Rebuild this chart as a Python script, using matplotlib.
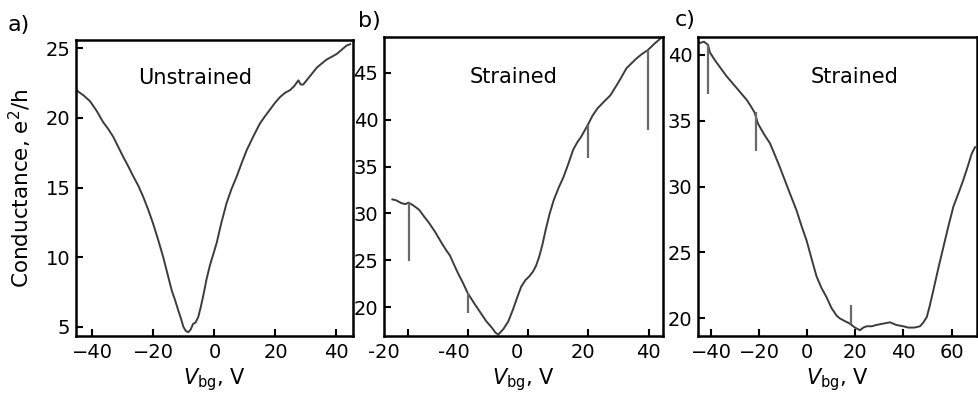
import matplotlib
matplotlib.use("Agg")
import matplotlib.pyplot as plt

# panel a: unstrained
va = [-45.2, -44.7, -42.8, -40.8, -38.6, -36.5, -34.8, -33.2, -31.5, -29.9,
      -28.2, -26.6, -24.9, -23.3, -21.7, -20.1, -18.4, -16.8, -15.4, -14.0,
      -12.9, -11.9, -11.0, -10.2, -9.4, -8.6, -7.8, -7.0, -6.2, -5.3,
      -4.5, -3.7, -2.6, -1.5, -0.4, 0.7, 2.3, 4.0, 5.6, 7.3,
      9.0, 10.6, 12.8, 14.9, 16.5, 18.2, 19.9, 21.5, 23.1, 24.8,
      26.2, 27.5, 28.3, 29.1, 31.3, 33.5, 35.1, 36.8, 38.5, 40.1,
      41.7, 43.3, 44.5]
ga = [22.0, 21.9, 21.6, 21.2, 20.5, 19.7, 19.2, 18.65, 17.9, 17.2,
      16.5, 15.8, 15.1, 14.3, 13.4, 12.4, 11.2, 10.0, 8.8, 7.6,
      6.9, 6.2, 5.6, 5.0, 4.7, 4.6, 4.8, 5.2, 5.3, 5.7,
      6.4, 7.2, 8.4, 9.4, 10.2, 11.0, 12.5, 13.9, 14.9, 15.8,
      16.8, 17.7, 18.7, 19.6, 20.1, 20.6, 21.1, 21.5, 21.8, 22.0,
      22.3, 22.7, 22.4, 22.4, 23.0, 23.6, 23.9, 24.2, 24.4, 24.6,
      24.9, 25.2, 25.3]

# panel b: strained
vb = [-45.3, -44.0, -42.3, -41.0, -39.9, -38.5, -36.4, -34.8, -33.1, -31.0,
      -28.8, -27.4, -26.1, -24.7, -23.4, -21.8, -20.2, -18.0, -15.9, -14.0,
      -12.1, -11.0, -10.0, -8.3, -6.7, -5.1, -3.8, -2.4, -1.0, 0.3,
      1.5, 2.5, 3.5, 4.6, 5.7, 7.0, 8.4, 10.0, 11.7, 13.3,
      14.9, 16.3, 17.6, 19.7, 21.3, 23.0, 25.1, 27.3, 30.0, 32.7,
      34.3, 35.9, 37.8, 39.7, 42.0, 44.5]
gb = [31.5, 31.4, 31.1, 31.0, 31.15, 30.9, 30.4, 29.7, 29.0, 28.0,
      26.8, 26.1, 25.5, 24.5, 23.6, 22.6, 21.5, 20.4, 19.4, 18.5,
      17.8, 17.3, 17.1, 17.7, 18.5, 19.8, 21.0, 22.2, 22.9, 23.3,
      23.8, 24.4, 25.3, 26.6, 28.2, 29.9, 31.4, 32.7, 33.9, 35.3,
      36.8, 37.6, 38.2, 39.4, 40.4, 41.2, 41.9, 42.6, 44.0, 45.5,
      46.0, 46.5, 47.0, 47.4, 48.1, 48.8]
spike_b_x = [-39.9, -20.2, 19.7, 39.7]
spike_b_top = [31.1, 21.5, 39.4, 47.4]
spike_b_bot = [24.9, 19.4, 35.9, 38.9]

# panel c: strained
vc = [-45.5, -44.8, -43.0, -41.3, -40.6, -38.5, -36.5, -33.7, -30.9, -28.1,
      -25.3, -23.5, -21.9, -20.6, -18.1, -15.6, -13.5, -11.5, -9.4, -7.3,
      -4.5, -2.4, -0.3, 1.8, 3.8, 5.9, 8.0, 10.0, 12.2, 13.5,
      15.5, 17.7, 19.8, 21.9, 23.3, 24.7, 26.8, 28.8, 31.5, 34.4,
      37.0, 39.9, 42.0, 44.5, 46.9, 48.3, 49.7, 51.0, 52.4, 54.5,
      56.6, 58.7, 60.8, 62.9, 64.9, 66.7, 68.4, 69.8]
gc = [41.0, 40.9, 41.0, 40.75, 40.2, 39.6, 39.1, 38.4, 37.8, 37.2,
      36.6, 36.1, 35.6, 34.8, 34.0, 33.3, 32.4, 31.5, 30.5, 29.5,
      28.2, 27.0, 25.9, 24.5, 23.2, 22.3, 21.6, 20.8, 20.2, 20.0,
      19.8, 19.6, 19.3, 19.1, 19.3, 19.4, 19.4, 19.5, 19.6, 19.7,
      19.5, 19.4, 19.3, 19.3, 19.4, 19.7, 20.1, 21.0, 22.1, 23.8,
      25.4, 27.0, 28.5, 29.5, 30.5, 31.5, 32.5, 33.0]
spike_c_x = [-41.3, -21.5, 18.0]
spike_c_top = [40.75, 35.7, 21.0]
spike_c_bot = [37.0, 32.7, 19.6]

line_col = "#3c3c3c"
spike_col = "#6a6a6a"

fig = plt.figure(figsize=(9.79, 3.93), dpi=100)
ax_a = fig.add_axes([0.0776, 0.145, 0.2826, 0.7532])
ax_b = fig.add_axes([0.3922, 0.145, 0.2850, 0.7616])
ax_c = fig.add_axes([0.7130, 0.145, 0.2847, 0.7616])

for ax in (ax_a, ax_b, ax_c):
    for s in ax.spines.values():
        s.set_linewidth(1.8)
    ax.tick_params(direction="in", length=5, width=1.5, labelsize=14,
                   colors="black")
    ax.tick_params(axis="y", pad=4)
    ax.tick_params(axis="x", pad=5)

ax_a.plot(va, ga, color=line_col, lw=1.4)
ax_a.set_xlim(-45.4, 45.3)
ax_a.set_ylim(4.33, 25.6)
ax_a.set_xticks([-40, -20, 0, 20, 40])
ax_a.set_yticks([5, 10, 15, 20, 25])
ax_a.text(0.432, 0.872, "Unstrained", transform=ax_a.transAxes,
          ha="center", va="center", fontsize=15)

ax_b.plot(vb, gb, color=line_col, lw=1.4)
ax_b.vlines(spike_b_x, spike_b_bot, spike_b_top, color=spike_col, lw=1.6)
ax_b.set_xlim(-45.8, 44.8)
ax_b.set_ylim(16.94, 48.84)
ax_b.set_yticks([20, 25, 30, 35, 40, 45])
# the tick labels in panel b are offset from the tick marks
ax_b.set_xticks([-40, -20, 0, 20, 40], [""] * 5)
ax_b.set_xticks([-48.1, -24.7, -3.9, 18.2, 39.9],
                ["-20", "-40", "0", "20", "40"], minor=True)
ax_b.tick_params(axis="x", which="minor", length=0, pad=5, labelsize=14)
ax_b.text(0.464, 0.866, "Strained", transform=ax_b.transAxes,
          ha="center", va="center", fontsize=15)

ax_c.plot(vc, gc, color=line_col, lw=1.4)
ax_c.vlines(spike_c_x, spike_c_bot, spike_c_top, color=spike_col, lw=1.6)
ax_c.set_xlim(-45.5, 70.5)
ax_c.set_ylim(18.66, 41.38)
ax_c.set_xticks([-40, -20, 0, 20, 40, 60])
ax_c.set_yticks([20, 25, 30, 35, 40])
ax_c.text(0.56, 0.866, "Strained", transform=ax_c.transAxes,
          ha="center", va="center", fontsize=15)

for ax in (ax_a, ax_b, ax_c):
    ax.set_xlabel(r"$V_{\mathrm{bg}}$, V", fontsize=15, labelpad=3)

fig.text(0.021, 0.52, "Conductance, e$^2$/h", rotation=90,
         ha="center", va="center", fontsize=15.5)

fig.text(8 / 979, 1 - 31 / 393, "a)", fontsize=16, ha="left", va="baseline")
fig.text(358 / 979, 1 - 27 / 393, "b)", fontsize=16, ha="left", va="baseline")
fig.text(675 / 979, 1 - 26 / 393, "c)", fontsize=16, ha="left", va="baseline")

fig.savefig("out.png", dpi=100)
